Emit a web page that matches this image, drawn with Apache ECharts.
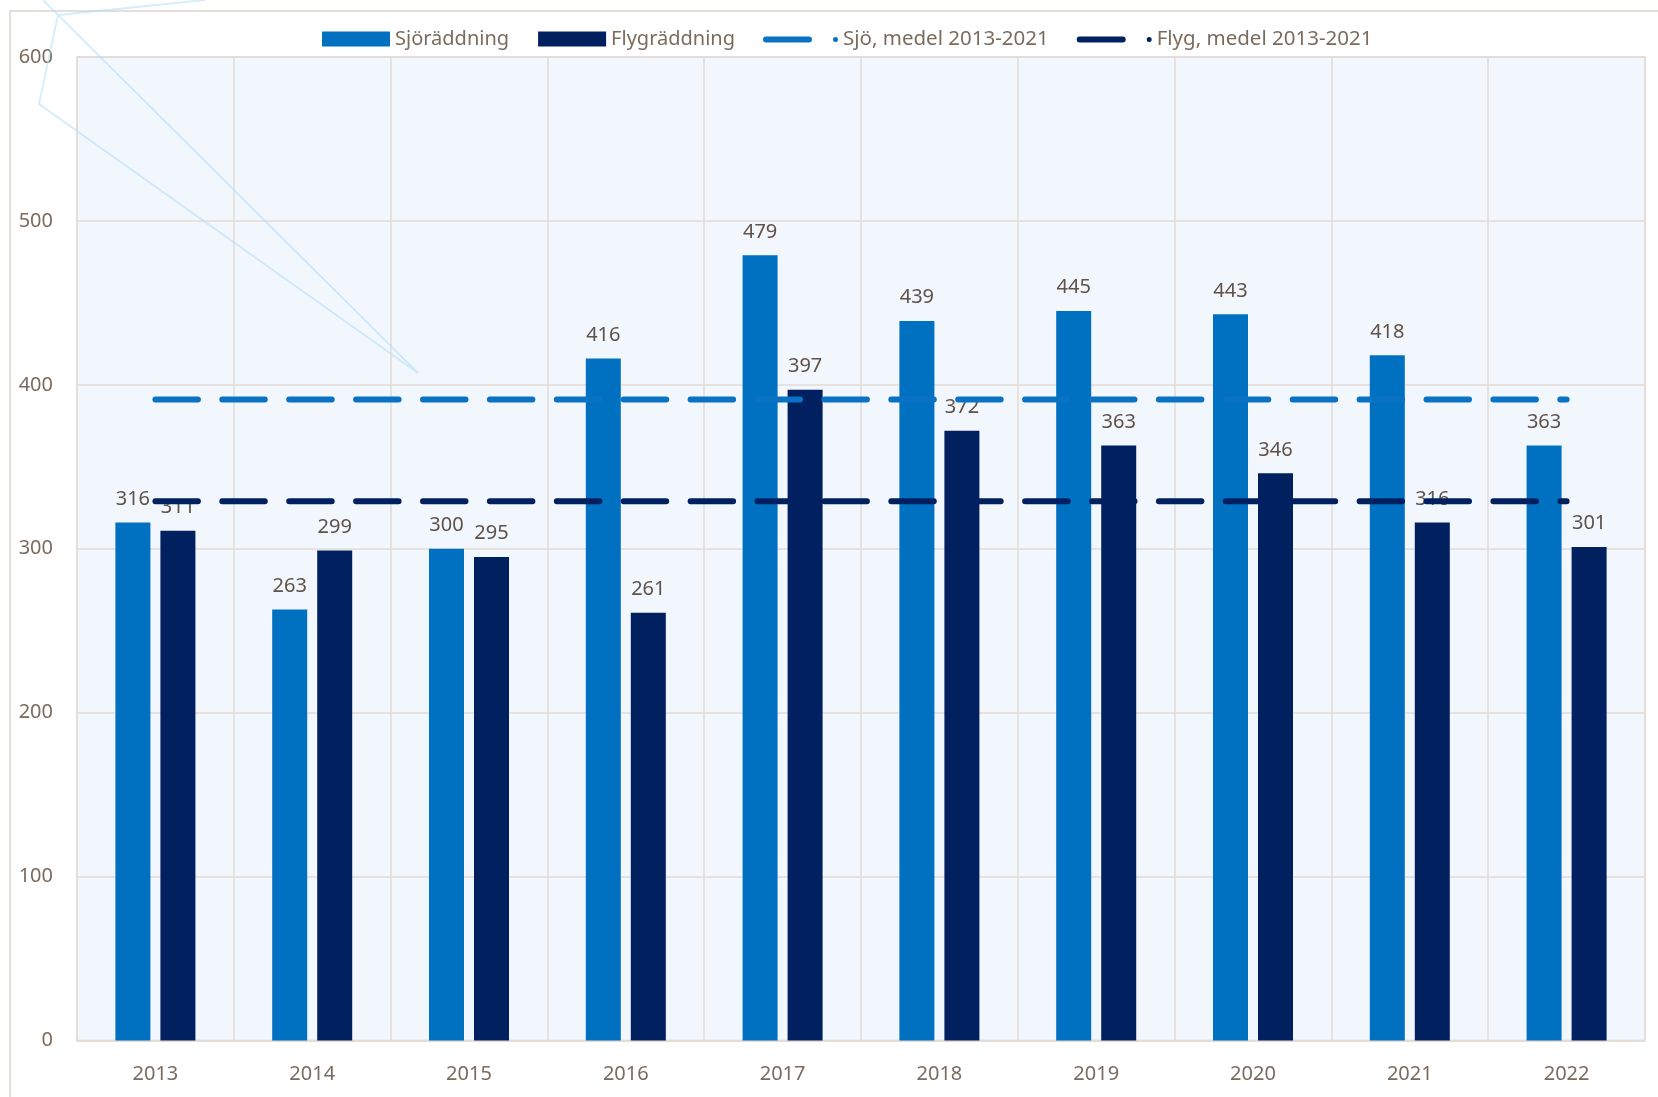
<!DOCTYPE html>
<html>
<head>
<meta charset="utf-8">
<script src="https://cdn.jsdelivr.net/npm/echarts@6/dist/echarts.min.js"></script>
<style>
  html, body { margin: 0; padding: 0; background: #fff; }
  #chart { width: 1658px; height: 1097px; }
</style>
</head>
<body>
<div id="chart"></div>
<script>
// årtal och värden
var years = ['2013', '2014', '2015', '2016', '2017', '2018', '2019', '2020', '2021', '2022'];
var sjoraddning = [316, 263, 300, 416, 479, 439, 445, 443, 418, 363];
var flygraddning = [311, 299, 295, 261, 397, 372, 363, 346, 316, 301];
// medelvärden 2013-2021 (horisontella streckade linjer)
var sjoMedel = 391;
var flygMedel = 329;
var yTicks = [0, 100, 200, 300, 400, 500, 600];

var txt = '#7b6b5e';
var lbl = '#5e5249';
var gridCol = '#e3dbd6';
var font = 'Noto Sans';

var lineIcon = 'path://M3,0 H46 A3,3 0 0 1 46,6 H3 A3,3 0 0 1 3,0 Z M72.5,0.5 A2.5,2.5 0 1 1 72.5,5.5 A2.5,2.5 0 1 1 72.5,0.5 Z';

var myChart = echarts.init(document.getElementById('chart'));
var option = {
  backgroundColor: '#fff',
  animation: false,
  textStyle: { fontFamily: font },
  grid: {
    left: 77, top: 57, right: 13, bottom: 56.5,
    show: true, backgroundColor: '#f2f6fd',
    borderColor: gridCol, borderWidth: 1.5
  },
  legend: [
    {
      left: 322, top: 29, padding: 0,
      itemWidth: 68, itemHeight: 15, itemGap: 29,
      icon: 'rect',
      textStyle: { color: txt, fontSize: 20, fontFamily: font },
      data: ['Sjöräddning', 'Flygräddning']
    },
    {
      left: 763, top: 29, padding: 0,
      itemWidth: 75, itemHeight: 15, itemGap: 28,
      icon: lineIcon,
      textStyle: { color: txt, fontSize: 20.5, fontFamily: font },
      data: ['Sjö, medel 2013-2021', 'Flyg, medel 2013-2021']
    }
  ],
  xAxis: {
    type: 'category',
    data: years,
    boundaryGap: true,
    axisLine: { show: true, lineStyle: { color: gridCol, width: 1.5 } },
    axisTick: { show: false },
    axisLabel: { color: txt, fontSize: 20, margin: 24, fontFamily: font },
    splitLine: { show: true, lineStyle: { color: gridCol, width: 1.5 } }
  },
  yAxis: {
    type: 'value',
    min: yTicks[0], max: yTicks[yTicks.length - 1], interval: 100,
    axisLine: { show: false },
    axisTick: { show: false },
    axisLabel: { color: txt, fontSize: 20, margin: 24, fontFamily: font },
    splitLine: { show: true, lineStyle: { color: gridCol, width: 1.5 } }
  },
  series: [
    {
      name: 'Sjöräddning',
      type: 'bar',
      z: 2,
      barWidth: 35,
      barGap: '28.6%',
      itemStyle: { color: '#0070c0' },
      label: { show: true, position: 'top', distance: 13.5, color: lbl, fontSize: 20, fontFamily: font },
      data: sjoraddning
    },
    {
      name: 'Flygräddning',
      type: 'bar',
      z: 2,
      barWidth: 35,
      itemStyle: { color: '#002060' },
      label: { show: true, position: 'top', distance: 13.5, color: lbl, fontSize: 20, fontFamily: font },
      data: flygraddning
    },
    {
      name: 'Sjö, medel 2013-2021',
      type: 'line',
      z: 10,
      symbol: 'none',
      color: '#0a72c2',
      lineStyle: { color: '#0a72c2', width: 6, type: [42.5, 24.4], cap: 'round' },
      data: years.map(function () { return sjoMedel; })
    },
    {
      name: 'Flyg, medel 2013-2021',
      type: 'line',
      z: 10,
      symbol: 'none',
      color: '#002060',
      lineStyle: { color: '#002060', width: 6, type: [42.5, 24.4], cap: 'round' },
      data: years.map(function () { return flygMedel; })
    }
  ],
  graphic: [
    // ram runt diagrammet
    {
      type: 'rect', z: 0, silent: true,
      shape: { x: 10, y: 11, width: 1800, height: 1200 },
      style: { fill: null, stroke: '#e6ded8', lineWidth: 2 }
    },
    // ljusblå dekorlinjer uppe till vänster
    {
      type: 'polyline', z: 20, silent: true,
      shape: { points: [[43, 0], [58, 15], [39, 104], [418, 373], [58, 15], [205, 0]] },
      style: { fill: null, stroke: 'rgba(175,222,246,0.55)', lineWidth: 1.8 }
    }
  ]
};
option && myChart.setOption(option);
</script>
</body>
</html>
